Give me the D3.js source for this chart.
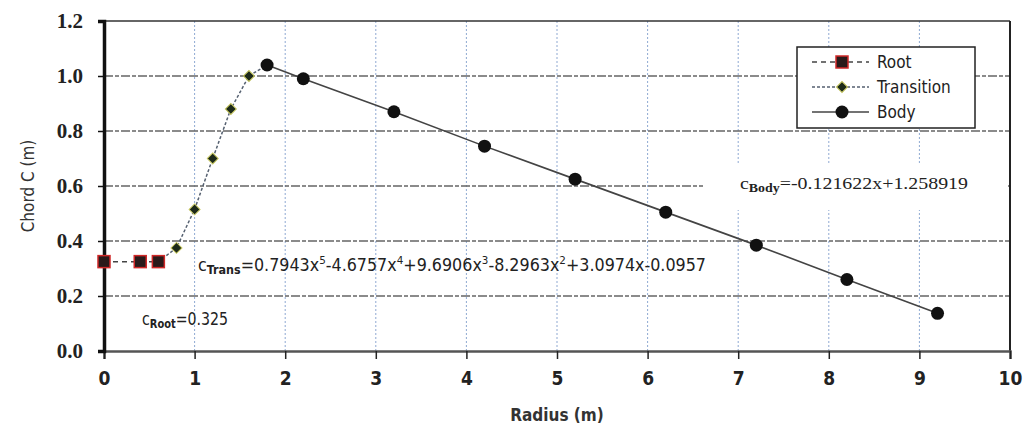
<!DOCTYPE html>
<html>
<head>
<meta charset="utf-8">
<script src="https://cdn.jsdelivr.net/npm/d3@7"></script>
<style>
  body { margin: 0; background: #fff; }
  svg { display: block; }
</style>
</head>
<body>
<svg id="chart" width="1031" height="432"></svg>
<script>
// Data.
var rootX = [0, 0.4, 0.6];
var rootY = [0.325, 0.325, 0.325];
var transX = [0.6, 0.8, 1.0, 1.2, 1.4, 1.6, 1.8];
var transY = [0.325, 0.375, 0.515, 0.70, 0.88, 1.0, 1.04];
var bodyX = [1.8, 2.2, 3.2, 4.2, 5.2, 6.2, 7.2, 8.2, 9.2];
var bodyY = [1.04, 0.99, 0.87, 0.745, 0.625, 0.505, 0.385, 0.26, 0.137];
var xTicks = [0, 1, 2, 3, 4, 5, 6, 7, 8, 9, 10];
var yTicks = [0, 0.2, 0.4, 0.6, 0.8, 1.0, 1.2];
var legendNames = ['Root', 'Transition', 'Body'];

// Layout.
var kLeft = 104, kRight = 1010, kTop = 21, kBottom = 351;
var svg = d3.select('#chart');

var x = d3.scaleLinear().domain([0, 10]).range([kLeft, kRight]);
var y = d3.scaleLinear().domain([0, 1.2]).range([kBottom, kTop]);

function Zip(xs, ys)
{
  return xs.map(function(v, i) { return [v, ys[i]]; });
}

// Vertical grid (light blue dotted).
svg.append('g').selectAll('line')
  .data(xTicks.filter(function(t) { return t > 0 && t < 10; }))
  .enter().append('line')
  .attr('x1', function(t) { return x(t); })
  .attr('x2', function(t) { return x(t); })
  .attr('y1', kTop).attr('y2', kBottom)
  .attr('stroke', '#8fa9d2').attr('stroke-width', 1)
  .attr('stroke-dasharray', '2,2');

// Horizontal grid (dark grey dashed).
svg.append('g').selectAll('line')
  .data(yTicks.filter(function(t) { return t > 0 && t < 1.2; }))
  .enter().append('line')
  .attr('x1', kLeft).attr('x2', kRight)
  .attr('y1', function(t) { return y(t); })
  .attr('y2', function(t) { return y(t); })
  .attr('stroke', '#666').attr('stroke-width', 1.3)
  .attr('stroke-dasharray', '9,2,4,2');

// Frame: top and right borders.
svg.append('line').attr('x1', kLeft).attr('x2', kRight)
  .attr('y1', kTop).attr('y2', kTop)
  .attr('stroke', '#333').attr('stroke-width', 1.5);
svg.append('line').attr('x1', kRight).attr('x2', kRight)
  .attr('y1', kTop).attr('y2', kBottom)
  .attr('stroke', '#222').attr('stroke-width', 2);

// White box behind the body equation.
svg.append('rect')
  .attr('x', 703).attr('y', 165).attr('width', 305).attr('height', 45)
  .attr('fill', '#fff');

// Axes.
var xAxis = d3.axisBottom(x).tickValues(xTicks).tickSize(8).tickFormat(d3.format('d'));
var gx = svg.append('g').attr('transform', 'translate(0,' + kBottom + ')').call(xAxis);
gx.select('.domain').attr('stroke', '#555').attr('stroke-width', 2.5);
gx.selectAll('.tick line').attr('stroke', '#222').attr('stroke-width', 1.5);
gx.selectAll('.tick text')
  .attr('dy', '1.2em')
  .style('font-family', '"DejaVu Sans Condensed", "Liberation Sans", sans-serif')
  .style('font-weight', 'bold').style('font-size', '19px').attr('fill', '#222');

var yAxis = d3.axisLeft(y).tickValues(yTicks).tickSize(6).tickFormat(d3.format('.1f'));
var gy = svg.append('g').attr('transform', 'translate(' + kLeft + ',0)').call(yAxis);
gy.select('.domain').attr('stroke', '#111').attr('stroke-width', 3.5);
gy.selectAll('.tick line').attr('stroke', '#111').attr('stroke-width', 1.5);
gy.selectAll('.tick text')
  .attr('x', -21)
  .style('font-family', '"Liberation Serif", "DejaVu Serif", serif')
  .style('font-weight', 'bold').style('font-size', '21px').attr('fill', '#222');

// Axis titles.
svg.append('text')
  .attr('x', (kLeft + kRight) / 2).attr('y', 421)
  .attr('text-anchor', 'middle')
  .style('font-family', '"DejaVu Sans Condensed", "Liberation Sans", sans-serif')
  .style('font-weight', 'bold').style('font-size', '17px').attr('fill', '#333')
  .text('Radius (m)');
svg.append('text')
  .attr('transform', 'translate(34,186) rotate(-90)')
  .attr('text-anchor', 'middle')
  .style('font-family', '"DejaVu Sans Condensed", "Liberation Sans", sans-serif')
  .style('font-size', '17px').attr('fill', '#333')
  .text('Chord C (m)');

// Lines.
var line = d3.line().x(function(d) { return x(d[0]); }).y(function(d) { return y(d[1]); });
svg.append('path').datum(Zip(rootX, rootY)).attr('d', line)
  .attr('fill', 'none').attr('stroke', '#444').attr('stroke-width', 1.5)
  .attr('stroke-dasharray', '5,4');
svg.append('path').datum(Zip(transX, transY)).attr('d', line)
  .attr('fill', 'none').attr('stroke', '#556070').attr('stroke-width', 1.5)
  .attr('stroke-dasharray', '3,2');
svg.append('path').datum(Zip(bodyX, bodyY)).attr('d', line)
  .attr('fill', 'none').attr('stroke', '#444').attr('stroke-width', 1.6);

// Markers: diamonds are squares turned by 45 degrees.
var diamond = d3.symbol().type(d3.symbolSquare).size(60);
svg.append('g').selectAll('path')
  .data(Zip(transX, transY).slice(1, -1))
  .enter().append('path')
  .attr('d', diamond)
  .attr('transform', function(d) {
    return 'translate(' + x(d[0]) + ',' + y(d[1]) + ') rotate(45)';
  })
  .attr('fill', '#1d2a1a').attr('stroke', '#c8c860').attr('stroke-width', 1);
svg.append('g').selectAll('rect')
  .data(Zip(rootX, rootY))
  .enter().append('rect')
  .attr('x', function(d) { return x(d[0]) - 6; })
  .attr('y', function(d) { return y(d[1]) - 6; })
  .attr('width', 12).attr('height', 12)
  .attr('fill', '#2a1a1a').attr('stroke', '#d02828').attr('stroke-width', 1.5);
svg.append('g').selectAll('circle')
  .data(Zip(bodyX, bodyY))
  .enter().append('circle')
  .attr('cx', function(d) { return x(d[0]); })
  .attr('cy', function(d) { return y(d[1]); })
  .attr('r', 6.5)
  .attr('fill', '#111');

// Equations.
function Equation(px, py, sub, rest, size, family, width)
{
  var t = svg.append('text').attr('x', px).attr('y', py)
    .style('font-family', family).style('font-size', size + 'px').attr('fill', '#222');
  if (width)
    t.attr('textLength', width).attr('lengthAdjust', 'spacingAndGlyphs');
  t.append('tspan').text('c');
  t.append('tspan').attr('dy', 3).style('font-size', (size * 0.7) + 'px')
    .style('font-weight', 'bold').text(sub);
  rest.forEach(function(part) {
    var s = t.append('tspan').text(part[0]);
    if (part[1] === 'sup')
      s.attr('dy', -7).style('font-size', (size * 0.65) + 'px');
    else if (part[1] === 'base')
      s.attr('dy', part[2]);
  });
}
var kSans = '"DejaVu Sans Condensed", "Liberation Sans", sans-serif';
var kSerif = '"Liberation Serif", "DejaVu Serif", serif';
Equation(198, 271, 'Trans', [
  ['=0.7943x', 'base', -3], ['5', 'sup'], ['-4.6757x', 'base', 7], ['4', 'sup'],
  ['+9.6906x', 'base', 7], ['3', 'sup'], ['-8.2963x', 'base', 7], ['2', 'sup'],
  ['+3.0974x-0.0957', 'base', 7]
], 17, kSans, 508);
Equation(142, 325, 'Root', [['=0.325', 'base', -3]], 17, kSans, 86);
Equation(740, 189, 'Body', [['=-0.121622x+1.258919', 'base', -3]], 17, kSerif, 228);

// Legend.
var legend = svg.append('g').attr('transform', 'translate(797,47)');
legend.append('rect').attr('width', 178).attr('height', 81)
  .attr('fill', '#fff').attr('stroke', '#222').attr('stroke-width', 1.5);
var legendRows = legend.selectAll('g.row').data(legendNames)
  .enter().append('g').attr('class', 'row')
  .attr('transform', function(d, i) { return 'translate(0,' + (15 + i * 25) + ')'; });
legendRows.append('line')
  .attr('x1', 15).attr('x2', 72).attr('y1', 0).attr('y2', 0)
  .attr('stroke', function(d, i) { return i === 1 ? '#556070' : '#444'; })
  .attr('stroke-width', 1.5)
  .attr('stroke-dasharray', function(d, i) { return ['5,4', '3,2', null][i]; });
legendRows.each(function(d, i) {
  var g = d3.select(this);
  if (i === 0)
    g.append('rect').attr('x', 39).attr('y', -6).attr('width', 12).attr('height', 12)
      .attr('fill', '#2a1a1a').attr('stroke', '#d02828').attr('stroke-width', 1.5);
  else if (i === 1)
    g.append('path').attr('d', diamond).attr('transform', 'translate(45,0) rotate(45)')
      .attr('fill', '#1d2a1a').attr('stroke', '#c8c860').attr('stroke-width', 1);
  else
    g.append('circle').attr('cx', 45).attr('cy', 0).attr('r', 6.5).attr('fill', '#111');
});
legendRows.append('text')
  .attr('x', 80).attr('y', 6)
  .style('font-family', kSans).style('font-size', '17px').attr('fill', '#222')
  .text(function(d) { return d; });
</script>
</body>
</html>
